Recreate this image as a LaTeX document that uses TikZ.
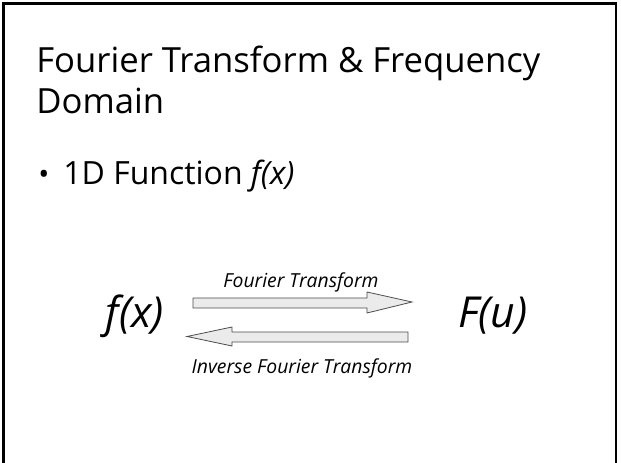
\documentclass[tikz,border=0pt]{standalone}
\usepackage{fontspec}
\setmainfont{Open Sans}
\usetikzlibrary{arrows.meta}

\begin{document}
\begin{tikzpicture}[x=0.75pt,y=-0.75pt,line width=.5pt,
  slidetext/.style={anchor=base west,inner sep=0pt,align=left},
  bigmath/.style={anchor=center,inner sep=0pt,font=\itshape\fontsize{32}{36}\selectfont},
  arrowlabel/.style={anchor=base,inner sep=0pt,font=\itshape\fontsize{14.5}{16}\selectfont},
  blockarrow/.style={draw=black!70,fill=black!8,line width=.6pt,line join=miter}]
\path[use as bounding box] (0,0) rectangle (621,463);
% slide frame, open at the bottom
\draw[line width=2pt] (3.5,470) -- (3.5,3.5) -- (616,3.5) -- (616,470);
\node[slidetext,font=\fontsize{26}{30.75}\selectfont] (title) at (36,114) {Fourier Transform \& Frequency\\Domain};
\node[anchor=base,inner sep=0pt,font=\fontsize{22}{26}\selectfont] (dot) at (44,185) {\textbullet};
\node[slidetext,font=\fontsize{24}{28}\selectfont] (item) at (63,185) {1D Function \textit{f(x)}};
\node[bigmath] (fx) at (135,316) {f(x)};
\node[bigmath] (Fu) at (493,316) {F(u)};
% forward and inverse transform arrows
\draw[blockarrow] (193,298) -- (367,298) -- (367,292) -- (412,302) -- (367,313) -- (367,308) -- (193,308) -- cycle;
\draw[blockarrow] (408,332) -- (232,332) -- (232,327) -- (187,336.5) -- (232,346) -- (232,342) -- (408,342) -- cycle;
\node[arrowlabel] (fwd) at (301,287) {Fourier Transform};
\node[arrowlabel] (inv) at (302,373) {Inverse Fourier Transform};
\end{tikzpicture}
\end{document}
